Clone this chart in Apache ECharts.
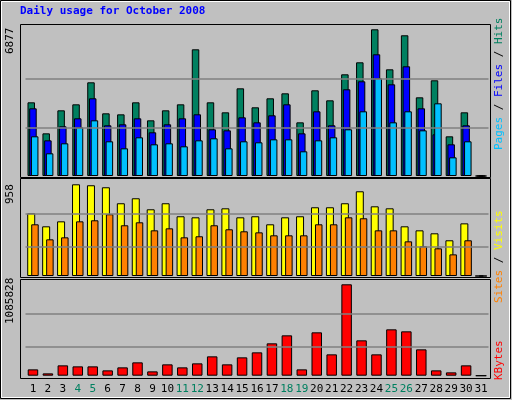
<!DOCTYPE html>
<html><head><meta charset="utf-8">
<script src="https://cdn.jsdelivr.net/npm/echarts@6/dist/echarts.min.js"></script>
<style>html,body{margin:0;padding:0;background:#c0c0c0}#c{width:512px;height:400px}</style>
</head><body><div id="c"></div>
<script>
const days = Array.from({length:31},(_,i)=>String(i+1));
const weekend = ['4','5','11','12','18','19','25','26'];
const hits  = [3454,2000,3079,3360,4392,2938,2891,3454,2610,3079,3360,5939,3454,2985,4110,3220,3642,3876,2516,4017,3548,4767,5330,6877,5001,6596,3688,4486,1860,2985,0];
const files = [3173,1672,2329,2704,3642,2376,2423,2704,2048,2423,2704,2892,2188,2141,2751,2516,2845,3360,2000,3032,2376,4064,4439,5705,4298,5142,3173,1954,1485,2376,0];
const pages = [1860,1063,1532,2282,2610,1626,1297,1813,1485,1532,1391,1672,1766,1297,1626,1579,1719,1719,1157,1672,1813,2188,3032,4580,2516,3032,2141,3407,875,1626,0];
const visits= [655,519,571,958,948,927,760,812,697,760,624,613,697,707,613,624,540,613,624,718,718,760,885,728,707,519,477,446,373,550,0];
const sites = [540,383,404,571,582,645,530,561,477,498,404,415,530,488,467,456,425,425,425,540,540,613,603,477,477,362,310,289,226,373,0];
const kbytes= [75297,27741,122853,110964,110964,63408,99075,158520,51519,134742,99075,146631,229854,134742,217965,277410,384411,479523,75297,515190,253632,1085828,420078,253632,550857,527079,313077,63408,39630,122853,0];
const maxLabels = ['6877','958','1085828'];
const gridLines = [[2283,4566],[310,655],[348000,740000]];

const chart = echarts.init(document.getElementById('c'));
const L=25.5, R=23.5;
const grids=[{left:L,right:R,top:29.3,bottom:224},{left:L,right:R,top:184.3,bottom:124},{left:L,right:R,top:284.3,bottom:24.3}];
const mono='DejaVu Sans Mono';
function xAx(i,show){return {type:'category',gridIndex:i,data:days,axisLine:{show:false},axisTick:{show:false},
 axisLabel:{show:show,margin:8,fontFamily:mono,fontSize:11,color:(v)=>weekend.includes(v)?'#008060':'#000',interval:0}};}
function yAx(i,max){return {type:'value',gridIndex:i,min:0,max:max,axisLabel:{show:false},axisLine:{show:false},axisTick:{show:false},splitLine:{show:false}};}
const bs={borderColor:'#000',borderWidth:1};
function ml(i){return {silent:true,symbol:'none',label:{show:false},lineStyle:{color:'#808080',type:'solid',width:1.5},data:gridLines[i].map(v=>({yAxis:v}))};}
function T(x,y,text,rot,extra){return Object.assign({type:'text',x:x,y:y,rotation:rot||0,style:Object.assign({text:text,font:'11px '+mono,fill:'#000'},extra||{})});}
chart.setOption({
 animation:false,backgroundColor:'#c0c0c0',
 grid:grids,
 xAxis:[xAx(0,false),xAx(1,false),xAx(2,true)],
 yAxis:[yAx(0,6877),yAx(1,958),yAx(2,1085828)],
 series:[
  {type:'bar',xAxisIndex:0,yAxisIndex:0,data:hits,barWidth:7.5,barGap:'-77%',itemStyle:Object.assign({color:'#008060'},bs),markLine:ml(0),z:2},
  {type:'bar',xAxisIndex:0,yAxisIndex:0,data:files,barWidth:7.5,barGap:'-77%',itemStyle:Object.assign({color:'#0000ff'},bs),z:3},
  {type:'bar',xAxisIndex:0,yAxisIndex:0,data:pages,barWidth:7.5,barGap:'-77%',itemStyle:Object.assign({color:'#00c0ff'},bs),z:4},
  {type:'bar',xAxisIndex:1,yAxisIndex:1,data:visits,barWidth:8,barGap:'-50%',itemStyle:Object.assign({color:'#ffff00'},bs),markLine:ml(1),z:2},
  {type:'bar',xAxisIndex:1,yAxisIndex:1,data:sites,barWidth:7.5,barGap:'-50%',itemStyle:Object.assign({color:'#ff8000'},bs),z:3},
  {type:'bar',xAxisIndex:2,yAxisIndex:2,data:kbytes,barWidth:10.5,itemStyle:Object.assign({color:'#ff0000'},bs),markLine:ml(2)}
 ],
 graphic:[
  {type:'rect',shape:{x:0.5,y:0.5,width:510,height:398},style:{fill:'none',stroke:'#000',lineWidth:1},z:-10},
  {type:'rect',shape:{x:1.5,y:1.5,width:508,height:396},style:{fill:'none',stroke:'#fff',lineWidth:1},z:-10},
  {type:'rect',shape:{x:20.5,y:24.5,width:470,height:153},style:{fill:'none',stroke:'#000',lineWidth:1}},
  {type:'rect',shape:{x:20.5,y:178.5,width:470,height:99},style:{fill:'none',stroke:'#000',lineWidth:1}},
  {type:'rect',shape:{x:20.5,y:279.5,width:470,height:99},style:{fill:'none',stroke:'#000',lineWidth:1}},
  T(20,6,'Daily usage for October 2008',0,{font:'bold 11px '+mono,fill:'#0000ff'}),
  T(5,54,maxLabels[0],Math.PI/2,{verticalAlign:'top'}),
  T(5,204,maxLabels[1],Math.PI/2,{verticalAlign:'top'}),
  T(5,324,maxLabels[2],Math.PI/2,{verticalAlign:'top'}),
  {type:'text',x:494,y:150,rotation:Math.PI/2,style:{rich:{p:{fill:'#00c0ff',font:'11px '+mono},f:{fill:'#0000ff',font:'11px '+mono},h:{fill:'#008060',font:'11px '+mono},s:{fill:'#000',font:'11px '+mono}},text:'{p|Pages}{s| / }{f|Files}{s| / }{h|Hits}',verticalAlign:'top'}},
  {type:'text',x:494,y:303,rotation:Math.PI/2,style:{rich:{a:{fill:'#ff8000',font:'11px '+mono},b:{fill:'#ffff00',font:'11px '+mono},s:{fill:'#000',font:'11px '+mono}},text:'{a|Sites}{s| / }{b|Visits}',verticalAlign:'top'}},
  T(494,380,'KBytes',Math.PI/2,{fill:'#ff0000',verticalAlign:'top'})
 ]
});
</script></body></html>
